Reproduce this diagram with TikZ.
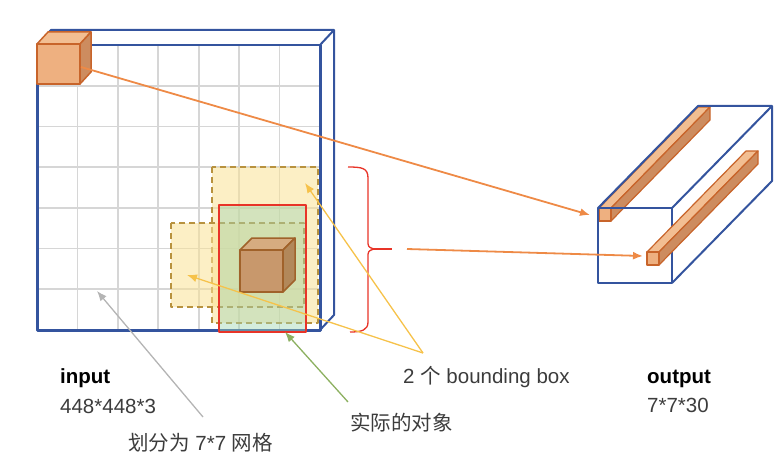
\documentclass[tikz,border=0pt]{standalone}
\usepackage{fontspec}
\setmainfont{Liberation Sans}
\newfontfamily\cjk{Noto Sans CJK SC}
\usetikzlibrary{arrows.meta}
\definecolor{gridblue}{RGB}{52,84,158}
\definecolor{gridgray}{RGB}{214,214,214}
\definecolor{cubefill}{RGB}{238,176,128}
\definecolor{cubetop}{RGB}{242,190,146}
\definecolor{cubeside}{RGB}{205,140,95}
\definecolor{cubeline}{RGB}{200,100,42}
\definecolor{objfill}{RGB}{200,152,108}
\definecolor{objtop}{RGB}{214,172,128}
\definecolor{objside}{RGB}{178,136,90}
\definecolor{objline}{RGB}{160,98,42}
\definecolor{arrorange}{RGB}{238,138,70}
\definecolor{boxred}{RGB}{232,52,40}
\definecolor{boxmint}{RGB}{160,214,180}
\definecolor{boxyellow}{RGB}{250,226,150}
\definecolor{boxdash}{RGB}{184,146,62}
\definecolor{arryellow}{RGB}{246,194,74}
\definecolor{arrgray}{RGB}{180,180,180}
\definecolor{arrgreen}{RGB}{140,176,96}
\definecolor{textgray}{RGB}{60,60,60}

\begin{document}
\begin{tikzpicture}[x=1pt,y=-1pt,line join=round,
 txt/.style={anchor=base west,inner sep=0pt,text=textgray,font=\fontsize{20.5}{24}\selectfont},
 heading/.style={txt,text=black,font=\fontsize{20.5}{24}\selectfont\bfseries},
 rim/.style={draw=gridblue,line width=2pt},
 gridline/.style={draw=gridgray,line width=1.6pt},
 cube/.style={draw=cubeline,line width=1.5pt},
 obj/.style={draw=objline,line width=1.5pt},
 bbox/.style={fill=boxyellow,fill opacity=.55,draw=boxdash,dash pattern=on 6pt off 4pt,line width=1.8pt},
 link/.style={-{Latex[length=10pt,width=8pt]},draw=arrorange,line width=1.8pt},
 pointer/.style={-{Latex[length=10pt,width=8pt]},line width=1.3pt}]
\useasboundingbox (0,0) rectangle (781,476);
% input: 7x7 grid
\foreach \i in {1,...,6}{
 \draw[gridline] ({37+\i*40.43},45) -- ({37+\i*40.43},330);
 \draw[gridline] (37,{45+\i*40.71}) -- (320,{45+\i*40.71});
}
\draw[rim] (37,45) -- (51,30) -- (334,30) -- (334,315) -- (320,330);
\draw[rim] (320,45) -- (334,30);
\draw[rim] (37,45) -- (320,45);
\draw[rim,line width=3pt] (37,45) -- (37,330) -- (320,330) -- (320,45);
% first cell
\filldraw[cube,fill=cubetop] (37,44) -- (48,32) -- (91,32) -- (80,44) -- cycle;
\filldraw[cube,fill=cubeside] (80,44) -- (91,32) -- (91,72) -- (80,84) -- cycle;
\filldraw[cube,fill=cubefill] (37,44) rectangle (80,84);
% boxes and object
\draw[bbox] (212,167) rectangle (318,323);
\draw[bbox] (171,223) rectangle (304,307);
\fill[boxmint,fill opacity=.45] (219,205) rectangle (306,332);
\filldraw[obj,fill=objtop] (240,250) -- (252,238) -- (295,238) -- (283,250) -- cycle;
\filldraw[obj,fill=objside] (283,250) -- (295,238) -- (295,280) -- (283,292) -- cycle;
\filldraw[obj,fill=objfill] (240,250) rectangle (283,292);
\draw[boxred,line width=2pt] (219,205) rectangle (306,332);
% brace
\draw[boxred,line width=1.3pt] (348,167) .. controls (362,167) and (368,168) .. (368,178) -- (368,240)
 .. controls (368,247) .. (374,249) .. controls (368,251) .. (368,258) -- (368,322)
 .. controls (368,330) and (362,332) .. (350,332);
\coordinate (bracetip) at (374,249);
\coordinate (braceend) at (392,249);
\draw[boxred,line width=2pt] (bracetip) -- (braceend);
% output 7x7x30
\filldraw[cube,line width=1.2pt,fill=cubetop] (599,208) -- (698,107) -- (710,107) -- (611,208) -- cycle;
\filldraw[cube,line width=1.2pt,fill=cubeside] (611,208) -- (710,107) -- (710,120) -- (611,221) -- cycle;
\filldraw[cube,line width=1.2pt,fill=cubefill] (599,208) rectangle (611,221);
\draw[rim] (598,208) rectangle (672,283);
\draw[rim] (598,208) -- (698,106) -- (772,106) -- (772,181) -- (672,283);
\draw[rim] (672,208) -- (772,106);
\filldraw[cube,line width=1.2pt,fill=cubetop] (647,252) -- (746,151) -- (758,151) -- (659,252) -- cycle;
\filldraw[cube,line width=1.2pt,fill=cubeside] (659,252) -- (758,151) -- (758,164) -- (659,265) -- cycle;
\filldraw[cube,line width=1.2pt,fill=cubefill] (647,252) rectangle (659,265);
% labels
\node[heading] (inname) at (60,383) {input};
\node[txt] (insize) at (60,413) {448*448*3};
\node[txt] (gridtxt) at (128,450) {{\cjk 划分为} 7*7 {\cjk 网格}};
\node[txt] (objtxt) at (350,430) {\cjk 实际的对象};
\node[txt] (bboxtxt) at (403,383) {2 {\cjk 个} bounding box};
\node[heading] (outname) at (647,383) {output};
\node[txt] (outsize) at (647,412) {7*7*30};
% arrows
\coordinate (cubeout) at (81,67);
\coordinate (bar1in) at (590,215);
\coordinate (sel) at (407,249);
\coordinate (bar2in) at (643,256);
\coordinate (fork) at (423,353);
\coordinate (boxAin) at (305,183);
\coordinate (boxBin) at (187,275);
\coordinate (gridfrom) at (203,417);
\coordinate (gridto) at (97,291);
\coordinate (objfrom) at (348,402);
\coordinate (objto) at (285,332);
\draw[link] (cubeout) -- (bar1in);
\draw[link] (sel) -- (bar2in);
\draw[pointer,arryellow] (fork) -- (boxAin);
\draw[pointer,arryellow] (fork) -- (boxBin);
\draw[pointer,arrgray] (gridfrom) -- (gridto);
\draw[pointer,arrgreen] (objfrom) -- (objto);
\end{tikzpicture}
\end{document}
